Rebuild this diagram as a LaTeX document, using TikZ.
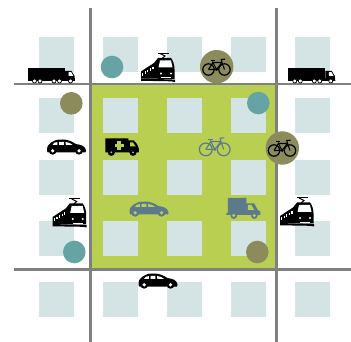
\documentclass[tikz,border=0pt]{standalone}
\definecolor{zonegreen}{HTML}{B8CF52}
\definecolor{block}{HTML}{D4E3E4}
\definecolor{road}{HTML}{808080}
\definecolor{tealdot}{HTML}{65A3A4}
\definecolor{olivedot}{HTML}{8C8B5B}
\definecolor{slateicon}{HTML}{5C7A8C}
\tikzset{
  x=1pt,y=-1pt,
  roadline/.style={draw=road,line width=2.6pt},
  blockbox/.style={fill=block},
  tealspot/.style={fill=tealdot},
  olivespot/.style={fill=olivedot},
  pics/truck/.style 2 args={code={
    \fill[#1] (0,0) rectangle (36.5,11.5);
    \fill[#1] (0,10.5) rectangle (47,13.5);
    \fill[#1] (37,3) -- (43.5,3) -- (46.5,8) -- (47,13) -- (37,13) -- cycle;
    \fill[#2] (40.5,4.2) -- (43.2,4.2) -- (45.2,7.8) -- (40.5,7.8) -- cycle;
    \foreach \wx in {6.5,12,26,31.5,42.5}{
      \filldraw[fill=#2,draw=#1,line width=.7pt] (\wx,13) circle[radius=2];
    }
  }},
  pics/carside/.style 2 args={code={
    \fill[#1] (0,11.5) .. controls (0,7) and (1,5) .. (4,3)
      .. controls (7,.6) and (10,0) .. (16,0)
      .. controls (21,0) and (25,2) .. (29,4.6)
      .. controls (34,5.2) and (38.5,6.5) .. (39,11)
      -- (38.5,13) -- (.8,13) -- cycle;
    \fill[#2] (5.5,5.4) -- (7.4,3.2) -- (10.4,2.6) -- (10.4,5.4) -- cycle;
    \fill[#2] (12,2.4) -- (16.8,2.3) -- (17,5.4) -- (12,5.4) -- cycle;
    \fill[#2] (18.6,2.5) .. controls (21.6,2.8) and (24,3.8) .. (25.6,5.4) -- (18.8,5.4) -- cycle;
    \foreach \wx in {5.7,32}{
      \fill[#1] (\wx,11.3) circle[radius=3.9];
      \fill[#2] (\wx,11.3) circle[radius=1.8];
    }
  }},
  pics/tram/.style 2 args={code={
    \draw[#1,line width=1pt] (16.5,.5) -- (27.5,.5);
    \draw[#1,line width=1pt] (19,.5) -- (24,3) -- (21,5.5);
    \fill[#1] (0,18.5) -- (6,14.5) -- (13,10) -- (17,5) -- (30,5)
      .. controls (32,7) and (33.5,12) .. (33.5,16)
      -- (33.5,26) -- (0,25.5) -- cycle;
    \fill[#2] (19,7.5) -- (30,7.5) -- (31.5,14.5) -- (17.5,14.5) -- cycle;
    \fill[#2] (20,20.5) circle[radius=1.2];
    \fill[#2] (30,20.5) circle[radius=1.2];
    \foreach \wx/\wy in {1/20,3.6/18.4,6.2/16.8,8.8/15.2,11.4/13.8}{
      \fill[#2] (\wx,\wy) rectangle +(1.2,2.6);
    }
    \fill[#2] (20,24.4) rectangle (30,25.4);
    \fill[#1] (0,25.5) -- (34,26.6) -- (34,29) -- (30,28.3) -- (0,27.8) -- cycle;
  }},
  pics/bike/.style={code={
    \draw[#1,line width=1.25pt] (6.5,11.5) circle[radius=5.7];
    \draw[#1,line width=1.25pt] (22.5,11.5) circle[radius=5.7];
    \draw[#1,line width=1.1pt,line join=round] (6.5,11.5) -- (11,4.5) -- (20,4.5) -- (22.5,11.5);
    \draw[#1,line width=1.1pt,line join=round] (6.5,11.5) -- (14.5,11.5) -- (20,4.5);
    \draw[#1,line width=1.1pt] (11,4.5) -- (14.5,11.5);
    \draw[#1,line width=1.1pt] (10.5,3.5) -- (11,4.5);
    \draw[#1,line width=1.5pt] (8.5,2.6) -- (12.8,2.6);
    \draw[#1,line width=1.1pt] (20,4.5) -- (19.3,1.5) -- (23,1.2);
    \fill[#1] (14.5,11.5) circle[radius=1.5];
  }},
  pics/ambulance/.style 2 args={code={
    \fill[#1] (0,0) -- (23,0) -- (23,2) -- (28.5,2)
      .. controls (31,4) and (33,7) .. (33.5,10) -- (33.7,14) -- (0,14) -- cycle;
    \fill[#2] (24.8,4) -- (27.6,4) -- (30.5,8) -- (24.8,8) -- cycle;
    \fill[#2] (12,2.6) rectangle (15.6,11.6);
    \fill[#2] (9.3,5.3) rectangle (18.3,8.9);
    \foreach \wx in {6,27.7}{
      \fill[#1] (\wx,13.8) circle[radius=3.6];
      \fill[#2] (\wx,13.8) circle[radius=1];
    }
  }},
  pics/delivery/.style 2 args={code={
    \fill[#1] (1.5,0) -- (20,0) -- (20,5.5) -- (28,5.5) -- (31.5,12) -- (34,13.5) -- (34,17)
      -- (0,17) -- (0,15) -- (1.5,15) -- cycle;
    \fill[#2] (21.5,7) -- (25,7) -- (28,12) -- (21.5,12) -- cycle;
    \foreach \wx in {7.5,28}{
      \fill[#1] (\wx,17.5) circle[radius=3.4];
      \fill[#2] (\wx,17.5) circle[radius=1.6];
    }
  }},
}
\begin{document}
\begin{tikzpicture}
\useasboundingbox (0,0) rectangle (351,342);
\fill[white] (0,0) rectangle (351,342);
\fill[zonegreen] (90.5,84) rectangle (276.5,269.5);
\foreach \bx in {39,103,167,231,295}{
  \foreach \by in {37,98,160,221,282}{
    \fill[blockbox] (\bx,\by) rectangle +(35,35);
  }
}
\draw[roadline] (90.5,8) -- (90.5,342);
\draw[roadline] (276.5,8) -- (276.5,342);
\draw[roadline] (14,84) -- (351,84);
\draw[roadline] (14,269.5) -- (351,269.5);
\fill[tealspot] (112,67) circle[radius=11.3];
\fill[tealspot] (258.3,103) circle[radius=11.3];
\fill[tealspot] (74.3,252) circle[radius=11.3];
\fill[olivespot] (71.3,103.3) circle[radius=11.3];
\fill[olivespot] (257.3,252) circle[radius=11.3];
\fill[olivespot] (216.7,66.7) circle[radius=16.7];
\fill[olivespot] (282.3,148) circle[radius=16.7];
\pic at (28,68) {truck={black}{white}};
\pic at (288.3,68) {truck={black}{white}};
\pic at (47,139.5) {carside={black}{white}};
\pic at (138.5,273.5) {carside={black}{white}};
\pic at (129.5,201.5) {carside={slateicon}{zonegreen}};
\pic at (141,53) {tram={black}{white}};
\pic at (52.7,198.5) {tram={black}{white}};
\pic at (280,197.5) {tram={black}{white}};
\pic at (202,58) {bike=black};
\pic at (267.5,139) {bike=black};
\pic[scale=1.12] at (198.5,136.5) {bike=slateicon};
\pic at (105.3,138.5) {ambulance={black}{zonegreen}};
\pic at (226.3,198) {delivery={slateicon}{zonegreen}};
\end{tikzpicture}
\end{document}
